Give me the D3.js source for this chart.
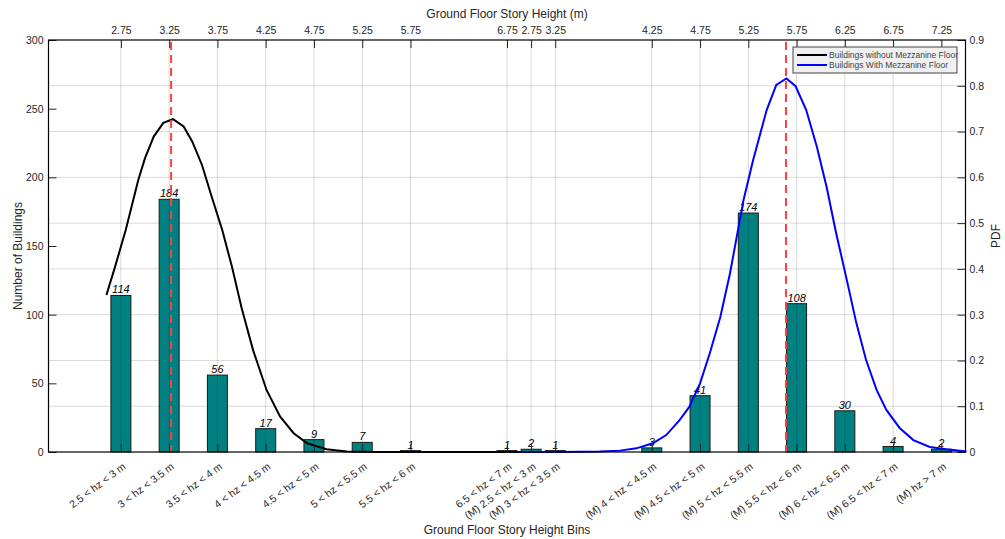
<!DOCTYPE html>
<html>
<head>
<meta charset="utf-8">
<script src="https://cdn.jsdelivr.net/npm/d3@7"></script>
<style>
  body { margin: 0; background: #fff; }
  text { font-family: "Liberation Sans", Arial, sans-serif; fill: #262626; }
</style>
</head>
<body>
<div id="chart"></div>
<script>
// bins and counts
const categories = ["2.5 < hz < 3 m", "3 < hz < 3.5 m", "3.5 < hz < 4 m", "4 < hz < 4.5 m",
  "4.5 < hz < 5 m", "5 < hz < 5.5 m", "5.5 < hz < 6 m", "6.5 < hz < 7 m",
  "(M) 2.5 < hz < 3 m", "(M) 3 < hz < 3.5 m", "(M) 4 < hz < 4.5 m", "(M) 4.5 < hz < 5 m",
  "(M) 5 < hz < 5.5 m", "(M) 5.5 < hz < 6 m", "(M) 6 < hz < 6.5 m", "(M) 6.5 < hz < 7 m",
  "(M) hz > 7 m"];
const counts = [114, 184, 56, 17, 9, 7, 1, 1, 2, 1, 3, 41, 174, 108, 30, 4, 2];
const topTicks = ["2.75", "3.25", "3.75", "4.25", "4.75", "5.25", "5.75", "6.75",
  "2.75", "3.25", "4.25", "4.75", "5.25", "5.75", "6.25", "6.75", "7.25"];

// pdf curves (height in m, pdf)
const noMezzH = [2.60, 2.69, 2.80, 2.93, 3.00, 3.09, 3.19, 3.29, 3.40, 3.49, 3.59, 3.69, 3.80,
  3.90, 4.00, 4.12, 4.26, 4.40, 4.54, 4.68, 4.88, 5.09, 5.40, 6.00, 6.85];
const noMezzPdf = [0.343, 0.405, 0.485, 0.594, 0.642, 0.689, 0.719, 0.727, 0.711, 0.678, 0.627,
  0.558, 0.485, 0.405, 0.315, 0.222, 0.135, 0.077, 0.041, 0.019, 0.006, 0.001, 0, 0, 0];
const mezzH = [2.85, 3.30, 3.71, 3.92, 4.09, 4.26, 4.40, 4.54, 4.64, 4.75, 4.85, 4.96, 5.06,
  5.13, 5.20, 5.30, 5.44, 5.54, 5.645, 5.74, 5.85, 5.96, 6.06, 6.16, 6.27, 6.37, 6.47, 6.58,
  6.68, 6.82, 6.96, 7.13, 7.30, 7.51];
const mezzPdf = [0, 0, 0.001, 0.003, 0.008, 0.019, 0.037, 0.070, 0.099, 0.150, 0.215, 0.295,
  0.390, 0.470, 0.550, 0.638, 0.747, 0.802, 0.816, 0.799, 0.747, 0.667, 0.580, 0.478, 0.376,
  0.281, 0.201, 0.135, 0.092, 0.052, 0.026, 0.011, 0.006, 0.001];
const meanLines = [3.27, 5.64];
const seriesNames = ["Buildings without Mezzanine Floor", "Buildings With Mezzanine Floor"];

const W = 1005, H = 539;
const m = { left: 48.5, right: 965.5, top: 40, bottom: 452 };

const svg = d3.select("#chart").append("svg")
  .attr("width", W).attr("height", H);

// slot positions of the bins on the shared x axis
const slot = d3.scaleOrdinal()
  .domain(categories)
  .range([0, 1, 2, 3, 4, 5, 6, 8, 8.5, 9, 11, 12, 13, 14, 15, 16, 17]);
const x = d3.scaleLinear().domain([-1.5, 17.5]).range([m.left, m.right]);
const xc = c => x(slot(c));

// height scales for the two pdf curves
const hA = d3.scaleLinear().domain([2.75, 6.75]).range([x(0), x(8)]);
const hB = d3.scaleLinear().domain([3.25, 7.25]).range([x(9), x(17)]);

const y = d3.scaleLinear().domain([0, 300]).range([m.bottom, m.top]);
const yPdf = d3.scaleLinear().domain([0, 0.9]).range([m.bottom, m.top]);

const grid = "rgba(0,0,0,0.15)";

// horizontal grid (right axis)
svg.append("g")
  .selectAll("line")
  .data(d3.range(1, 9).map(i => i / 10))
  .join("line")
  .attr("x1", m.left).attr("x2", m.right)
  .attr("y1", d => yPdf(d)).attr("y2", d => yPdf(d))
  .attr("stroke", grid);

// bars
svg.append("g")
  .selectAll("rect")
  .data(categories)
  .join("rect")
  .attr("x", d => xc(d) - 10)
  .attr("width", 20)
  .attr("y", (d, i) => y(counts[i]))
  .attr("height", (d, i) => m.bottom - y(counts[i]))
  .attr("fill", "#008080")
  .attr("stroke", "#1a1a1a")
  .attr("stroke-width", 1);

// vertical grid (top axis), drawn over the bars
svg.append("g")
  .selectAll("line")
  .data(categories)
  .join("line")
  .attr("x1", d => xc(d)).attr("x2", d => xc(d))
  .attr("y1", m.top).attr("y2", m.bottom)
  .attr("stroke", grid);

// bar labels
svg.append("g")
  .selectAll("text")
  .data(categories)
  .join("text")
  .attr("x", d => xc(d))
  .attr("y", (d, i) => y(counts[i]) - 2)
  .attr("text-anchor", "middle")
  .style("font-size", "11px")
  .style("font-style", "italic")
  .style("fill", "#000")
  .text((d, i) => counts[i]);

// pdf curves
const lineA = d3.line().x(d => hA(d[0])).y(d => yPdf(d[1]));
const lineB = d3.line().x(d => hB(d[0])).y(d => yPdf(d[1]));
svg.append("path")
  .attr("d", lineA(d3.zip(noMezzH, noMezzPdf)))
  .attr("fill", "none").attr("stroke", "#000").attr("stroke-width", 2);
svg.append("path")
  .attr("d", lineB(d3.zip(mezzH, mezzPdf)))
  .attr("fill", "none").attr("stroke", "#0000ff").attr("stroke-width", 2);

// mean lines
[hA(meanLines[0]), hB(meanLines[1])].forEach(mx => {
  svg.append("line")
    .attr("x1", mx).attr("x2", mx)
    .attr("y1", m.top + 2).attr("y2", m.bottom)
    .attr("stroke", "#ff4040")
    .attr("stroke-width", 2)
    .attr("stroke-dasharray", "8,5");
});

// axes
const axisStyle = g => {
  g.select(".domain").remove();
  g.selectAll("line").attr("stroke", "#262626");
  g.selectAll("text").style("font-size", "10.5px").style("fill", "#262626")
    .style("font-family", "Liberation Sans, Arial, sans-serif");
};

svg.append("g")
  .attr("transform", "translate(" + m.left + ",0)")
  .call(d3.axisLeft(y).tickValues(d3.range(0, 301, 50)).tickSizeInner(-8).tickSizeOuter(0).tickPadding(5))
  .call(axisStyle);

svg.append("g")
  .attr("transform", "translate(" + m.right + ",0)")
  .call(d3.axisRight(yPdf).tickValues(d3.range(0, 10).map(i => i / 10))
    .tickFormat(d => d === 0 ? "0" : d3.format(".1f")(d))
    .tickSizeInner(-8).tickSizeOuter(0).tickPadding(4))
  .call(axisStyle);

svg.append("g")
  .attr("transform", "translate(0," + m.top + ")")
  .call(d3.axisTop(x).tickValues(categories.map(slot)).tickFormat((d, i) => topTicks[i])
    .tickSizeInner(-8).tickSizeOuter(0).tickPadding(6))
  .call(axisStyle);

const bottomAxis = svg.append("g")
  .attr("transform", "translate(0," + m.bottom + ")")
  .call(d3.axisBottom(x).tickValues(categories.map(slot)).tickFormat((d, i) => categories[i])
    .tickSizeInner(-8).tickSizeOuter(0))
  .call(axisStyle);
bottomAxis.selectAll("text")
  .attr("text-anchor", "end")
  .attr("dy", null)
  .attr("y", null)
  .attr("transform", "translate(5,16) rotate(-37)");

// plot box
svg.append("rect")
  .attr("x", m.left).attr("y", m.top)
  .attr("width", m.right - m.left).attr("height", m.bottom - m.top)
  .attr("fill", "none").attr("stroke", "#000").attr("stroke-width", 1.2);

// axis titles
svg.append("text")
  .attr("x", (m.left + m.right) / 2).attr("y", 18)
  .attr("text-anchor", "middle")
  .style("font-size", "12px")
  .text("Ground Floor Story Height (m)");

svg.append("text")
  .attr("x", (m.left + m.right) / 2).attr("y", 534)
  .attr("text-anchor", "middle")
  .style("font-size", "12px")
  .text("Ground Floor Story Height Bins");

svg.append("text")
  .attr("transform", "translate(22,256) rotate(-90)")
  .attr("text-anchor", "middle")
  .style("font-size", "12px")
  .text("Number of Buildings");

svg.append("text")
  .attr("transform", "translate(1000,236) rotate(-90)")
  .attr("text-anchor", "middle")
  .style("font-size", "12px")
  .text("PDF");

// legend
const legend = svg.append("g").attr("transform", "translate(793,47)");
legend.append("rect")
  .attr("width", 164).attr("height", 26)
  .attr("fill", "#f0f0f0").attr("stroke", "#444").attr("stroke-width", 1);
const legendColors = ["#000", "#0000ff"];
seriesNames.forEach((name, i) => {
  legend.append("line")
    .attr("x1", 4).attr("x2", 34)
    .attr("y1", 8 + i * 10).attr("y2", 8 + i * 10)
    .attr("stroke", legendColors[i]).attr("stroke-width", 2);
  legend.append("text")
    .attr("x", 36).attr("y", 11 + i * 10)
    .style("font-size", "8.5px")
    .style("fill", "#444")
    .text(name);
});
</script>
</body>
</html>
